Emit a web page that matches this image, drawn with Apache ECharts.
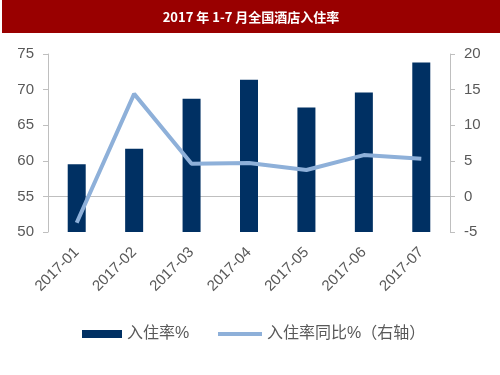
<!DOCTYPE html>
<html><head><meta charset="utf-8">
<script src="https://cdn.jsdelivr.net/npm/echarts@6/dist/echarts.min.js"></script>
<style>html,body{margin:0;padding:0;background:#fff}#c{width:500px;height:375px}</style>
</head><body><div id="c"></div>
<script>
const categories = ['2017-01','2017-02','2017-03','2017-04','2017-05','2017-06','2017-07'];
const occupancy = [59.5, 61.7, 68.7, 71.4, 67.5, 69.6, 73.8];
const occupancyYoY = [-3.7, 14.4, 4.6, 4.7, 3.7, 5.8, 5.3];
const titleText = '2017 年 1-7 月全国酒店入住率';
const seriesNames = ['入住率%', '入住率同比%（右轴）'];

const FONT = '"Liberation Sans", "Noto Sans CJK SC", sans-serif';
const chart = echarts.init(document.getElementById('c'));
const axisLine = {show: true, lineStyle: {color: '#bfbfbf', width: 1}};
chart.setOption({
  animation: false,
  graphic: [
    {type: 'rect', shape: {x: 2, y: 0, width: 498, height: 33}, style: {fill: '#990000'}},
    {type: 'text', x: 251, y: 17, style: {text: titleText, fill: '#fff', font: 'bold 13px "Noto Sans CJK SC", serif', align: 'center', verticalAlign: 'middle'}}
  ],
  grid: {left: 48, right: 50, top: 54, bottom: 143},
  legend: [
    {data: [{name: seriesNames[0], icon: 'rect'}], left: 77, top: 321, itemWidth: 40, itemHeight: 8, itemGap: 5,
     textStyle: {fontSize: 16, color: '#595959', fontFamily: FONT}},
    {data: [{name: seriesNames[1], icon: 'rect'}], left: 213, top: 321, itemWidth: 44, itemHeight: 4, itemGap: 5,
     textStyle: {fontSize: 16, color: '#595959', fontFamily: FONT}}
  ],
  xAxis: {
    type: 'category', data: categories,
    axisLine: axisLine, axisTick: {show: false},
    axisLabel: {rotate: 45, fontSize: 15, color: '#595959', fontFamily: FONT, margin: 18, interval: 0}
  },
  yAxis: [
    {type: 'value', min: 50, max: 75, interval: 5, splitLine: {show: false},
     axisLine: axisLine, axisTick: {show: true, length: 5, lineStyle: {color: '#bfbfbf'}},
     axisLabel: {fontSize: 15, color: '#595959', fontFamily: FONT, margin: 14}},
    {type: 'value', min: -5, max: 20, interval: 5, splitLine: {show: false},
     axisLine: axisLine, axisTick: {show: true, length: 5, lineStyle: {color: '#bfbfbf'}},
     axisLabel: {fontSize: 15, color: '#595959', fontFamily: FONT, margin: 14}}
  ],
  series: [
    {name: seriesNames[0], type: 'bar', data: occupancy, barWidth: 18, itemStyle: {color: '#003063'}, yAxisIndex: 0},
    {name: seriesNames[1], type: 'line', data: occupancyYoY, yAxisIndex: 1, symbol: 'none',
     lineStyle: {color: '#8eb0d9', width: 4}, itemStyle: {color: '#8eb0d9'}}
  ]
});
</script></body></html>
